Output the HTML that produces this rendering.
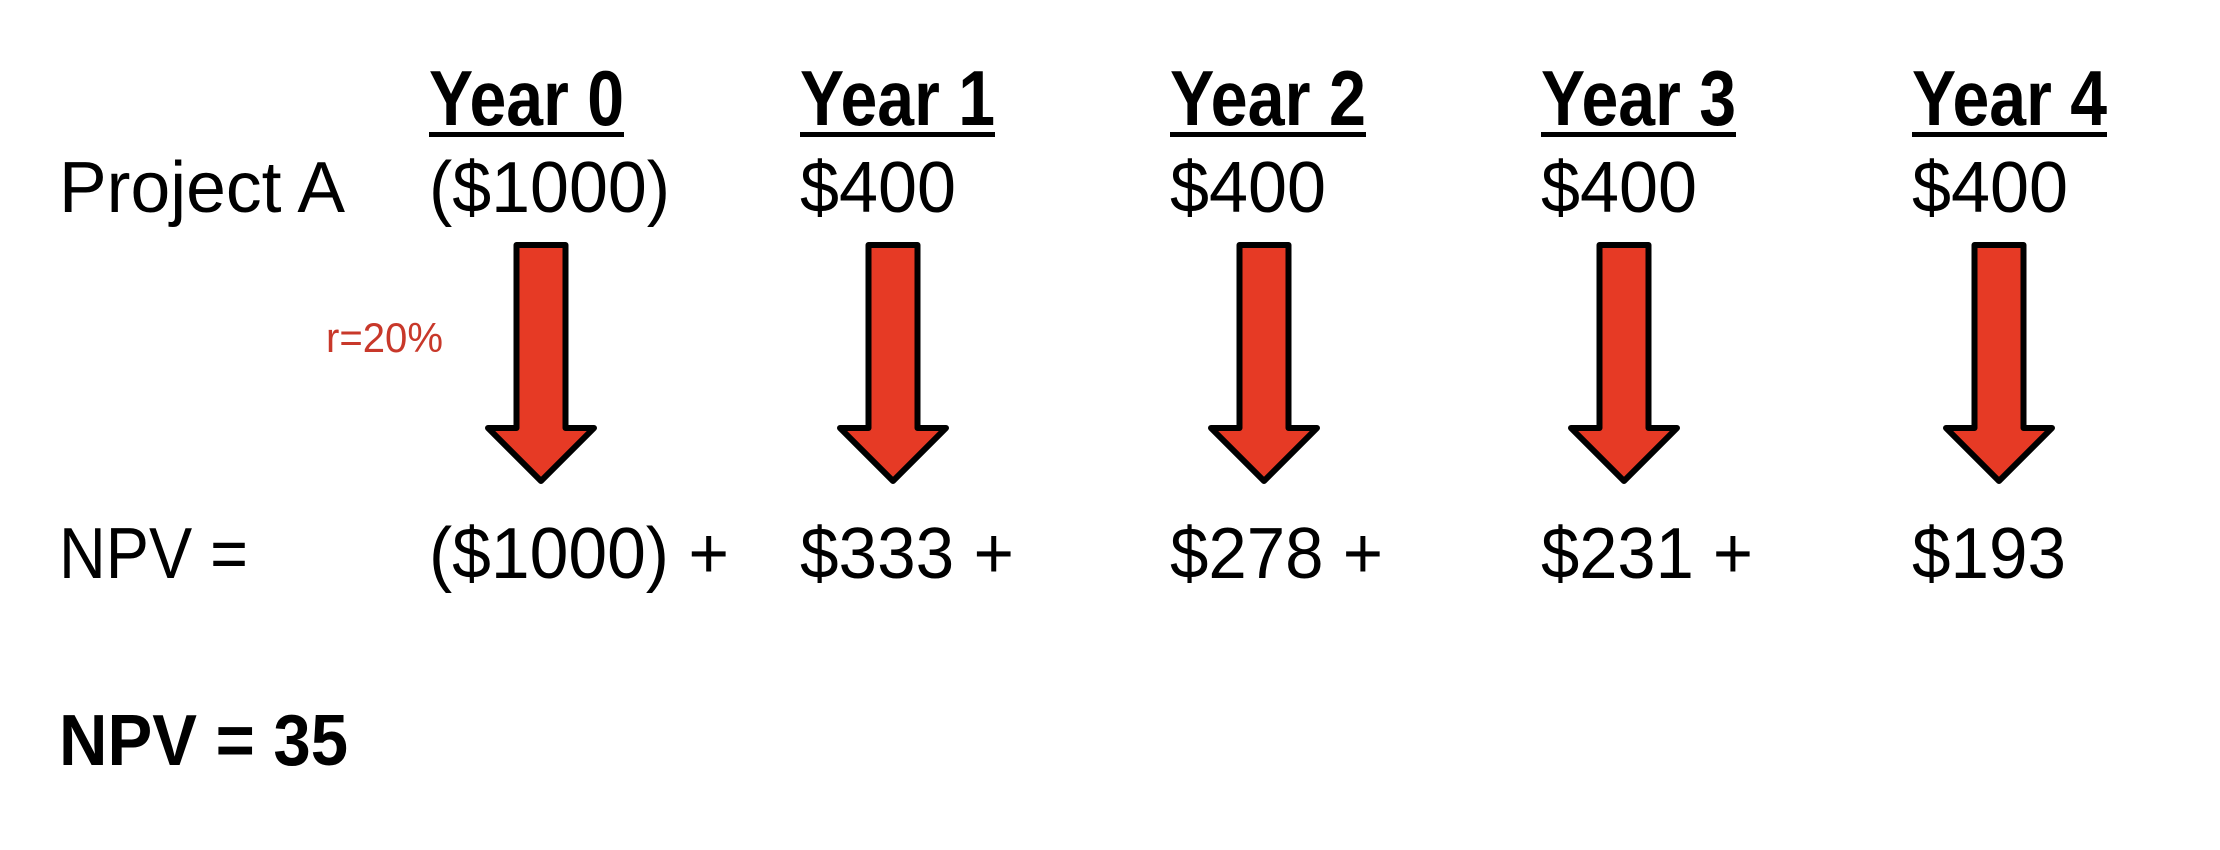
<!DOCTYPE html>
<html><head><meta charset="utf-8"><style>
html,body{margin:0;padding:0;background:#fff;width:2220px;height:850px;overflow:hidden}
svg{display:block}
text{font-family:"Liberation Sans",sans-serif;fill:#000}
</style></head><body>
<svg id="chart" width="2220" height="850" viewBox="0 0 2220 850">
<text x="59" y="212" font-size="72" textLength="286" lengthAdjust="spacingAndGlyphs">Project A</text>
<text x="59" y="578" font-size="72" textLength="189" lengthAdjust="spacingAndGlyphs">NPV =</text>
<text x="326" y="352" font-size="42" style="fill:#c8382a" textLength="117" lengthAdjust="spacingAndGlyphs">r=20%</text>
<text x="59" y="765" font-size="72" font-weight="bold" textLength="289" lengthAdjust="spacingAndGlyphs">NPV = 35</text>
<g id="cols"></g>
</svg>
<script>
const years = ["Year 0","Year 1","Year 2","Year 3","Year 4"];
const cashFlows = ["($1000)","$400","$400","$400","$400"];
const presentValues = ["($1000) +","$333 +","$278 +","$231 +","$193"];
const colX = [429,800,1170,1541,1912];
const yearW = [195,195,196,195,195];
const cfW = [241,156,156,156,156];
const pvW = [300,214,213,212,154];
const arrowCx = [541,893,1264,1624,1999];
const NS="http://www.w3.org/2000/svg";
const g=document.getElementById('cols');
function mk(tag,attrs){const e=document.createElementNS(NS,tag);for(const k in attrs)e.setAttribute(k,attrs[k]);g.appendChild(e);return e;}
years.forEach((y,i)=>{
  const t=mk('text',{x:colX[i],y:125,'font-size':78,'font-weight':'bold',textLength:yearW[i],lengthAdjust:'spacingAndGlyphs'});
  t.textContent=y;
  
  
  const u=mk('rect',{x:colX[i],y:132,width:yearW[i],height:5,fill:'#000'});
  
  
  const c=mk('text',{x:colX[i],y:212,'font-size':72,textLength:cfW[i],lengthAdjust:'spacingAndGlyphs'});
  c.textContent=cashFlows[i];
  
  
  const cx=arrowCx[i],sw=24.5,hw=53,top=245,ht=428,tip=481;
  const a=mk('polygon',{points:`${cx-sw},${top} ${cx+sw},${top} ${cx+sw},${ht} ${cx+hw},${ht} ${cx},${tip} ${cx-hw},${ht} ${cx-sw},${ht}`,fill:'#e63a25',stroke:'#000','stroke-width':6,'stroke-linejoin':'round'});
  
  
  const p=mk('text',{x:colX[i],y:578,'font-size':72,textLength:pvW[i],lengthAdjust:'spacingAndGlyphs'});
  p.textContent=presentValues[i];
  
  
});
</script>
</body></html>
